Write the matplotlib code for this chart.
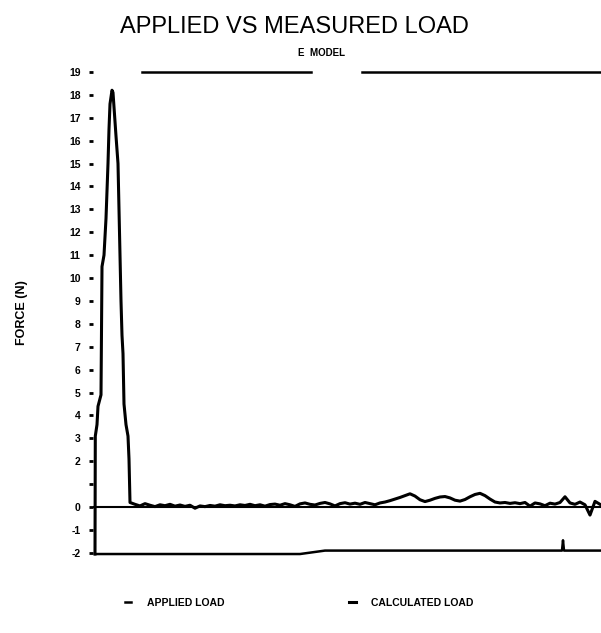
import numpy as np
import matplotlib
import matplotlib.pyplot as plt

matplotlib.use('agg')

plt.rcParams['font.family'] = ['Liberation Sans Narrow', 'Liberation Sans', 'DejaVu Sans']

# load pulse, time in s / force in N
pulse_time = [0.0, 0.03, 0.2, 0.3, 0.6, 0.7, 0.9, 1.1, 1.2, 1.3, 1.4, 1.5, 1.7, 1.8,
              2.1, 2.3, 2.4, 2.5, 2.6, 2.7, 2.8, 2.9, 3.1, 3.3, 3.4, 3.5]
pulse_force = [-2.05, 3.1, 3.6, 4.4, 4.9, 10.5, 11.0, 12.6, 13.8, 15.0, 16.5, 17.6, 18.2, 18.1,
               16.2, 15.0, 13.0, 11.0, 9.0, 7.5, 6.7, 4.5, 3.6, 3.1, 2.1, 0.2]

# settled part after the pulse, sampled every 0.5 s from 4.0 s
settled_force = [0.12, 0.05, 0.15, 0.08, 0.02, 0.10, 0.06, 0.12, 0.04, 0.09,
                 0.03, 0.08, -0.05, 0.05, 0.02, 0.07, 0.04, 0.10, 0.06, 0.08,
                 0.05, 0.10, 0.07, 0.12, 0.06, 0.10, 0.04, 0.11, 0.13, 0.08,
                 0.15, 0.10, 0.03, 0.14, 0.18, 0.12, 0.09, 0.16, 0.20, 0.14,
                 0.05, 0.15, 0.19, 0.13, 0.17, 0.12, 0.20, 0.15, 0.10, 0.18,
                 0.22, 0.28, 0.35, 0.42, 0.50, 0.58, 0.48, 0.32, 0.24, 0.30,
                 0.38, 0.44, 0.46, 0.40, 0.30, 0.26, 0.33, 0.45, 0.55, 0.60,
                 0.50, 0.35, 0.22, 0.18, 0.20, 0.16, 0.19, 0.15, 0.20, 0.04,
                 0.18, 0.14, 0.06, 0.17, 0.13, 0.20, 0.45, 0.18, 0.12, 0.22,
                 0.10, -0.35, 0.25, 0.12]
settled_time = np.arange(4.0, 4.0 + 0.5 * len(settled_force), 0.5)

applied_time = [0.0, 20.5, 23.0, 46.7, 46.8, 46.9, 50.6]
applied_force = [-2.05, -2.05, -1.9, -1.9, -1.45, -1.9, -1.9]

yticks = list(range(-2, 20))

calc_time = np.concatenate([pulse_time, settled_time])
calc_force = np.concatenate([pulse_force, settled_force])

fig = plt.figure(figsize=(6.01, 6.33), dpi=100)
ax = fig.add_axes([93 / 601, 1 - 557 / 633, 508 / 601, 486 / 633])

ax.axhline(0, color='black', lw=1.5)
applied, = ax.plot(applied_time, applied_force, color='black', lw=1.8)
calc, = ax.plot(calc_time, calc_force, color='black', lw=2.2)

ax.set_xlim(-0.2, 50.6)
ax.set_ylim(-2.18, 19.04)

# broken frame line along the top
ax.axhline(19.0, xmin=0.097, xmax=0.43, color='black', lw=1.8)
ax.axhline(19.0, xmin=0.53, xmax=1.0, color='black', lw=1.8)

for side in ['left', 'right', 'top', 'bottom']:
    ax.spines[side].set_visible(False)
ax.set_xticks([])
ax.set_yticks(yticks)
ax.set_yticklabels([str(v) if v != 1 else '' for v in yticks], fontsize=7.5, fontweight='bold')
ax.tick_params(axis='y', direction='out', length=3, width=2, pad=6)

fig.text(0.49, 1 - 27 / 633, 'APPLIED VS MEASURED LOAD', ha='center', va='center', fontsize=17)
fig.text(0.535, 1 - 53 / 633, 'E  MODEL', ha='center', va='center', fontsize=7, fontweight='bold')
fig.text(22 / 601, 1 - 313 / 633, 'FORCE (N)', rotation=90, ha='center', va='center', fontsize=9, fontweight='bold')

fig.legend([applied, calc], ['APPLIED LOAD', 'CALCULATED LOAD'], loc='center',
           bbox_to_anchor=(0.498, 1 - 603 / 633), ncol=2, frameon=False,
           handlelength=0.6, handletextpad=1.5, columnspacing=12,
           prop={'weight': 'bold', 'size': 7.5})

fig.savefig('out.png', dpi=100)
